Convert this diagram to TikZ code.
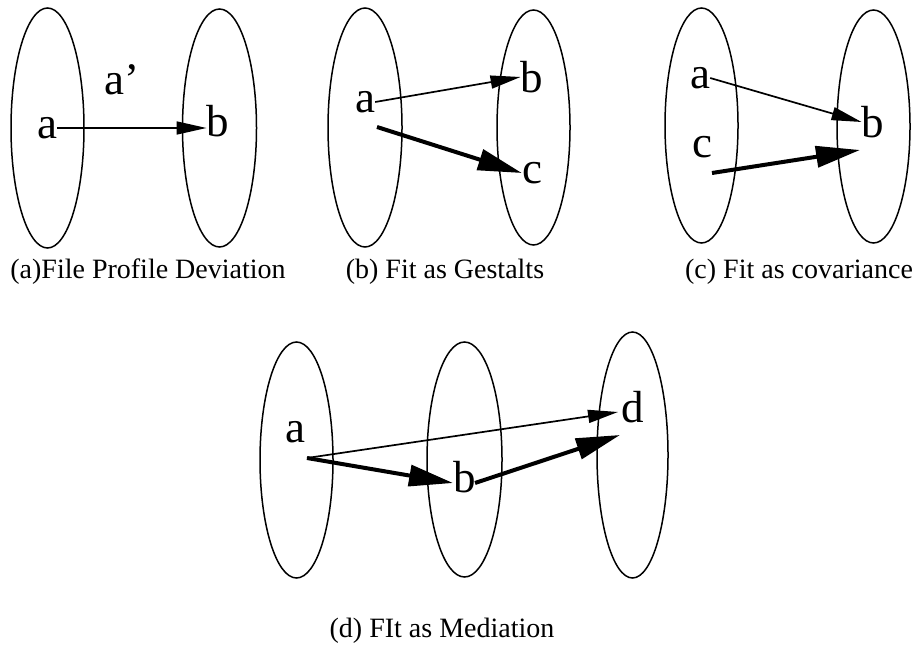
\documentclass[tikz,border=0pt]{standalone}
\usepackage{fontspec}
\setmainfont{Liberation Serif}
\usetikzlibrary{shapes.geometric,arrows.meta}
\tikzset{
  oval/.style={draw, ellipse, line width=1.5pt, inner sep=0pt},
  lbl/.style={inner sep=0pt, font=\fontsize{45}{50}\selectfont},
  captxt/.style={inner sep=0pt, font=\fontsize{28}{32}\selectfont},
  thinarr/.style={line width=1.7pt, -{Triangle[length=30pt,width=13pt]}},
  thickarr/.style={line width=4pt, -{Triangle[length=44pt,width=21pt]}}
}
\begin{document}
\begin{tikzpicture}[x=1pt,y=-1pt]
\useasboundingbox (0,0) rectangle (917,652);
% (a)
\node[oval, minimum width=73pt, minimum height=240pt] (aL) at (47.5,128) {};
\node[oval, minimum width=74pt, minimum height=238pt] (aR) at (219.5,128) {};
\node[lbl] (aa) at (47,128) {a};
\node[lbl] (ab) at (218,121.5) {b};
\node[lbl] (aap) at (122,80) {a'};
\draw[thinarr] (aa.east) -- (aa.east -| ab.west);
\node[captxt] (capa) at (148,272) {(a)File Profile Deviation};
% (b)
\node[oval, minimum width=74pt, minimum height=239pt] (bL) at (365,127.5) {};
\node[oval, minimum width=73pt, minimum height=235pt] (bR) at (533.5,127.5) {};
\node[lbl] (ba) at (365,102) {a};
\node[lbl] (bb) at (532,77) {b};
\node[lbl] (bc) at (532,173) {c};
\coordinate (bt) at (377,127);
\draw[thinarr] (ba.east) -- (bb.west);
\draw[thickarr] (bt) -- (bc.west);
\node[captxt] (capb) at (445,272) {(b) Fit as Gestalts};
% (c)
\node[oval, minimum width=73pt, minimum height=235pt] (cL) at (701.5,125.5) {};
\node[oval, minimum width=73pt, minimum height=233pt] (cR) at (873.5,126.5) {};
\node[lbl] (ca) at (700,78) {a};
\node[lbl] (cb) at (873,122) {b};
\node[lbl] (cc) at (702,147) {c};
\coordinate (ct) at (712,173);
\coordinate (ce) at (860,150);
\draw[thinarr] (ca.east) -- (cb.west);
\draw[thickarr] (ct) -- (ce);
\node[captxt] (capc) at (799,272) {(c) Fit as covariance};
% (d)
\node[oval, minimum width=73pt, minimum height=236pt] (dL) at (296.5,460) {};
\node[oval, minimum width=75pt, minimum height=235pt] (dM) at (464.5,459.5) {};
\node[oval, minimum width=71pt, minimum height=246pt] (dR) at (632.5,455) {};
\node[lbl] (da) at (295,432) {a};
\node[lbl] (db) at (465,477) {b};
\node[lbl] (dd) at (633,407) {d};
\coordinate (ds) at (307,458);
\coordinate (dbw) at (453,483);
\coordinate (dbs) at (475,483);
\coordinate (dde) at (618,412);
\coordinate (ddt) at (620,435);
\draw[thinarr] (ds) -- (dde);
\draw[thickarr] (ds) -- (dbw);
\draw[thickarr] (dbs) -- (ddt);
\node[captxt] (capd) at (442,631) {(d) FIt as Mediation};
\end{tikzpicture}
\end{document}
